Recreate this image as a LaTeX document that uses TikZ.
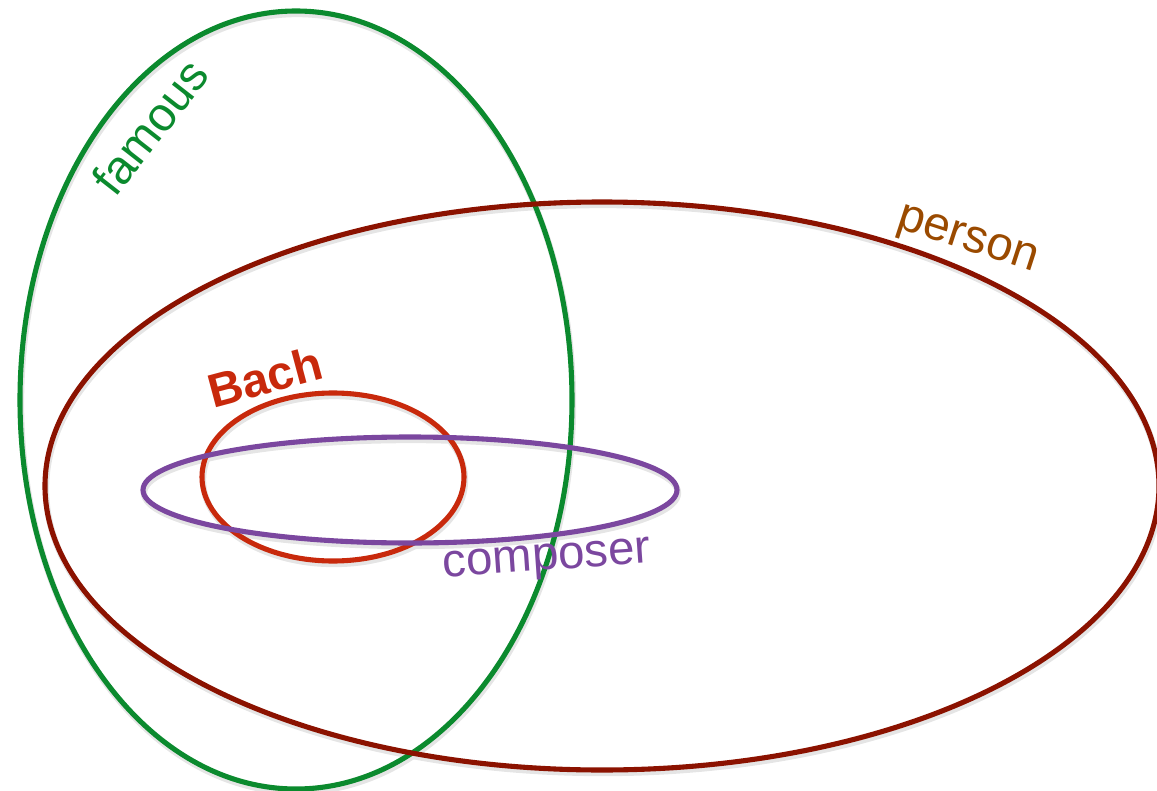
\documentclass[tikz,border=0pt]{standalone}
\usepackage{fontspec}
\setmainfont{Liberation Sans}
\definecolor{famousgreen}{HTML}{0B8A2E}
\definecolor{personred}{HTML}{8B1200}
\definecolor{personbrown}{HTML}{9A4A00}
\definecolor{bachred}{HTML}{C8290C}
\definecolor{composerpurple}{HTML}{7B479F}
\begin{document}
\begin{tikzpicture}[x=0.02cm, y=0.02cm]
        \tikzstyle{set} = [line width=2.9pt]
        \tikzstyle{shade} = [line width=3.6pt, black!10, shift={(1,-3)}]
        \tikzstyle{setlabel} = [inner sep=0pt, font=\fontsize{27}{32}\selectfont]
        \useasboundingbox (0,0) rectangle (1157,-791);
        % soft shadows under the sets
        \draw [shade] (296,-400) ellipse [x radius=276, y radius=389];
        \draw [shade] (602,-486) ellipse [x radius=557, y radius=284];
        \draw [shade] (333,-477) ellipse [x radius=131, y radius=84];
        \draw [shade] (410,-490) ellipse [x radius=267, y radius=53];
        % sets
        \draw [set, famousgreen] (296,-400) ellipse [x radius=276, y radius=389];
        \draw [set, personred] (602,-486) ellipse [x radius=557, y radius=284];
        \draw [set, bachred] (333,-477) ellipse [x radius=131, y radius=84];
        \draw [set, composerpurple] (410,-490) ellipse [x radius=267, y radius=53];
        % labels
        \node (famous) [setlabel, famousgreen, rotate=52] at (150,-127) {famous};
        \node (person) [setlabel, personbrown, rotate=-18] at (967,-242) {person};
        \node (bach) [setlabel, bachred, rotate=15, font=\fontsize{27}{32}\selectfont\bfseries] at (265,-377) {Bach};
        \node (composer) [setlabel, composerpurple, rotate=4] at (547,-562) {composer};
    \end{tikzpicture}
\end{document}
